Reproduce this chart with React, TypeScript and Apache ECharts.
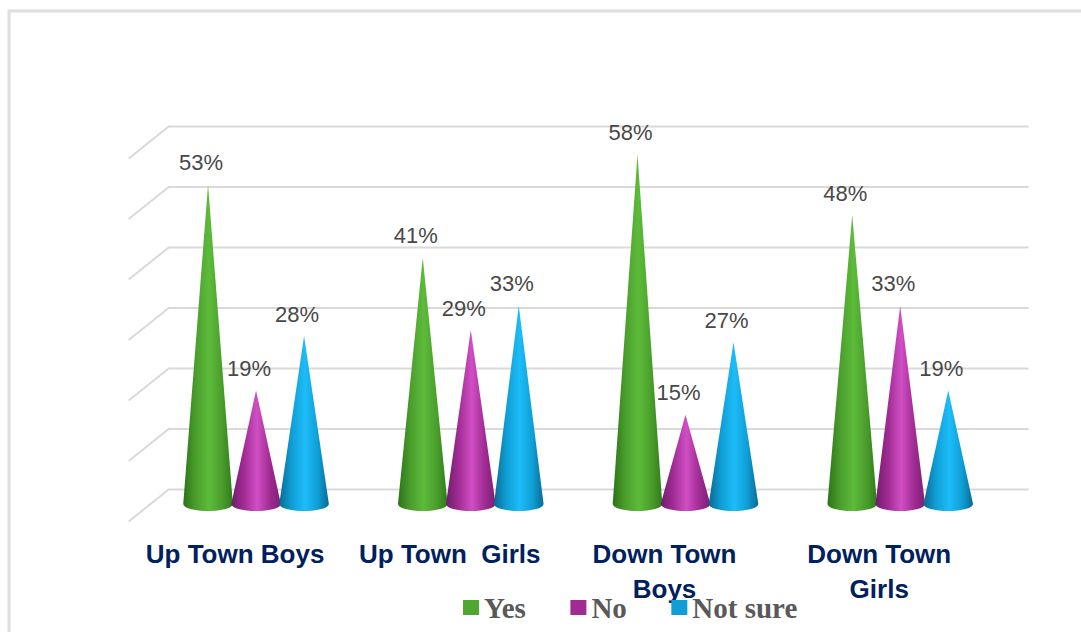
import React, { useEffect, useRef } from "react";
import * as echarts from "echarts";

const categories = ["Up Town Boys", "Up Town  Girls", "Down Town\nBoys", "Down Town\nGirls"];
const yesValues = [53, 41, 58, 48];
const noValues = [19, 29, 15, 33];
const notSureValues = [28, 33, 27, 19];
const wallTicks = [0, 10, 20, 30, 40, 50, 60];

const DEPTH_X = 20;
const DEPTH_Y = 16;

// Horizontal shading that gives each cone its rounded look.
const coneFill = (edgeL: string, mid: string, peak: string, edgeR: string) => ({
  type: "linear",
  x: 0,
  y: 0,
  x2: 1,
  y2: 0,
  colorStops: [
    { offset: 0, color: edgeL },
    { offset: 0.25, color: mid },
    { offset: 0.52, color: peak },
    { offset: 0.78, color: mid },
    { offset: 1, color: edgeR },
  ],
});

const coneSeries = (
  name: string,
  values: number[],
  slot: number,
  color: string,
  fill: object,
) => ({
  type: "custom",
  name,
  z: 3,
  itemStyle: { color },
  data: values.map((v, i) => [categories[i], v]),
  encode: { x: 0, y: 1 },
  renderItem: (_: unknown, api: any) => {
    const value = api.value(1);
    const tip = api.coord([api.value(0), value]);
    const base = api.coord([api.value(0), 0]);
    const band = api.size([1, 0])[0];
    const cx = tip[0] + slot * band * 0.2236;
    const rx = band * 0.1155;
    const ry = 7;
    const by = base[1] - 1.5;
    return {
      type: "group",
      children: [
        {
          type: "path",
          shape: {
            pathData: `M${cx} ${tip[1]} L${cx - rx} ${by} A${rx} ${ry} 0 0 0 ${cx + rx} ${by} Z`,
          },
          style: { fill },
        },
        {
          type: "text",
          z2: 100,
          x: cx - 7,
          y: tip[1] - 22,
          style: {
            text: `${value}%`,
            fill: "#484848",
            font: '22px "Liberation Sans", Arial, sans-serif',
            align: "center",
            verticalAlign: "middle",
          },
        },
      ],
    };
  },
});

export default function App() {
  const ref = useRef<HTMLDivElement>(null);

  useEffect(() => {
    const chart = echarts.init(ref.current!, undefined, { renderer: "svg" });
    chart.setOption({
      animation: false,
      backgroundColor: "#ffffff",
      grid: { left: 148.7, right: 73.4, top: 82, bottom: 126.5 },
      xAxis: {
        type: "category",
        data: categories,
        axisLine: { show: false },
        axisTick: { show: false },
        axisLabel: {
          interval: 0,
          margin: 31,
          color: "#002060",
          fontFamily: '"Liberation Sans", Arial, sans-serif',
          fontWeight: "bold",
          fontSize: 26,
          lineHeight: 35,
          padding: [0, 42, 0, 0],
        },
      },
      yAxis: { type: "value", show: false, min: 0, max: 70, interval: 10, splitLine: { show: false } },
      legend: {
        data: ["Yes", "No", "Not sure"],
        left: 463,
        top: 593,
        padding: 0,
        icon: "rect",
        itemWidth: 16,
        itemHeight: 15,
        itemGap: 44.5,
        selectedMode: false,
        textStyle: {
          color: "#595959",
          fontFamily: '"Liberation Serif", serif',
          fontWeight: "bold",
          fontSize: 29,
        },
      },
      graphic: [
        {
          type: "rect",
          silent: true,
          shape: { x: 9, y: 11, width: 1200, height: 800 },
          style: { fill: "none", stroke: "#dedede", lineWidth: 3 },
        },
      ],
      series: [
        {
          // Back wall and side wall rules of the 3D plot area.
          type: "custom",
          name: "walls",
          z: 1,
          silent: true,
          data: wallTicks.map((v) => [categories[0], v]),
          encode: { x: 0, y: 1 },
          renderItem: (params: any, api: any) => {
            const y = api.coord([api.value(0), api.value(1)])[1];
            const { x, width } = params.coordSys;
            return {
              type: "polyline",
              shape: {
                points: [
                  [x - DEPTH_X, y + DEPTH_Y],
                  [x + DEPTH_X, y - DEPTH_Y],
                  [x + width + DEPTH_X + 1, y - DEPTH_Y],
                ],
              },
              style: { fill: "none", stroke: "#d9d9d9", lineWidth: 2 },
            };
          },
        },
        coneSeries("Yes", yesValues, -1, "#4EA72E", coneFill("#2c7319", "#4a9e2c", "#5dbb3a", "#2f7a1c")),
        coneSeries("No", noValues, 0, "#A02B93", coneFill("#6f1c6a", "#a02b93", "#d04fc4", "#7a2074")),
        coneSeries("Not sure", notSureValues, 1, "#0F9ED5", coneFill("#0a6a92", "#0f9ed5", "#1dbcf8", "#0a6a92")),
      ],
    });
    return () => chart.dispose();
  }, []);

  return <div ref={ref} style={{ position: "fixed", left: 0, top: 0, width: 1081, height: 632 }} />;
}
